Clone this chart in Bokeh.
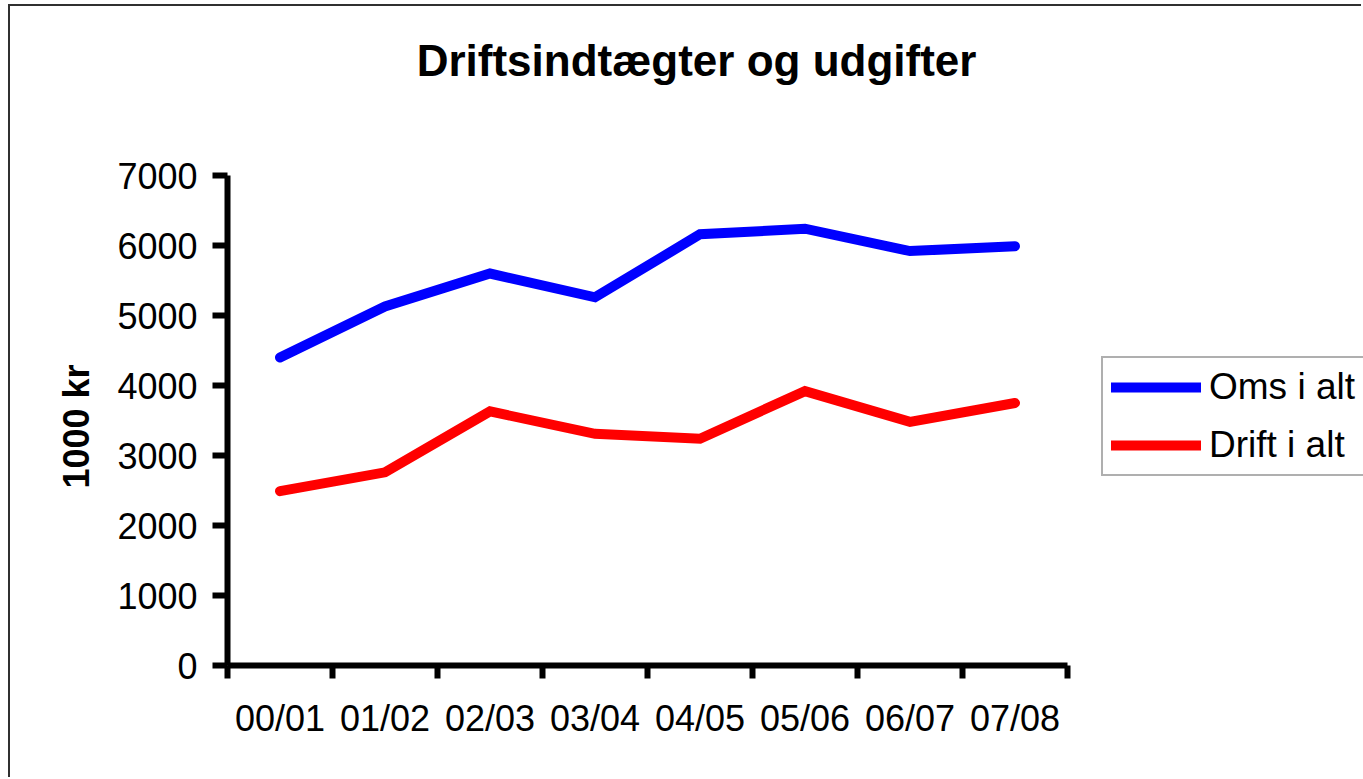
import numpy as np
from bokeh.plotting import figure
from bokeh.models import (Range1d, FixedTicker, LinearAxis, Legend, LegendItem, Label, Title)
from bokeh.embed import file_html
from bokeh.resources import INLINE

categories = ["00/01", "01/02", "02/03", "03/04", "04/05", "05/06", "06/07", "07/08"]
oms_i_alt = [4400, 5130, 5600, 5260, 6160, 6240, 5920, 5990]
drift_i_alt = [2490, 2760, 3630, 3310, 3240, 3920, 3480, 3750]
y_ticks = [0, 1000, 2000, 3000, 4000, 5000, 6000, 7000]
y_max = 7000

FONT = "Liberation Sans"
n = len(categories)
xpos = [i + 0.5 for i in range(n)]

# frame spans from the y axis to the right/top edges of the canvas;
# the axes are bounded to the data area (105 px per category, 70 px per 1000)
W, H = 1353, 773
LEFT, BOTTOM = 217, 114
x_end = (W - LEFT) / 105.0
y_end = (H - BOTTOM) / 70.0 * 1000

p = figure(width=W, height=H, output_backend="svg", toolbar_location=None,
           x_range=Range1d(0, x_end), y_range=Range1d(0, y_end),
           min_border_left=LEFT, min_border_right=0, min_border_top=0,
           min_border_bottom=BOTTOM, x_axis_type=None, y_axis_type=None)
p.styles = {"border-left": "2px solid #303030", "border-top": "2px solid #303030",
            "margin-left": "8px", "margin-top": "4px"}
p.outline_line_color = None
p.xgrid.visible = False
p.ygrid.visible = False
p.background_fill_color = "white"
p.border_fill_color = "white"

# x axis: labels at category centres, ticks at category boundaries
xaxis = LinearAxis(ticker=FixedTicker(ticks=xpos, minor_ticks=list(range(n + 1))),
                   major_label_overrides={x: c for x, c in zip(xpos, categories)},
                   bounds=(0, n))
xaxis.axis_line_width = 6
xaxis.axis_line_color = "black"
xaxis.major_tick_line_color = None
xaxis.minor_tick_line_color = "black"
xaxis.minor_tick_line_width = 6
xaxis.minor_tick_out = 13
xaxis.minor_tick_in = 0
xaxis.major_label_standoff = 19
xaxis.major_label_text_font = FONT
xaxis.major_label_text_font_size = "36px"
xaxis.major_label_text_color = "black"
p.add_layout(xaxis, "below")

yaxis = LinearAxis(ticker=FixedTicker(ticks=y_ticks, minor_ticks=[]),
                   bounds=(0, y_max))
yaxis.axis_line_width = 6
yaxis.axis_line_color = "black"
yaxis.major_tick_line_width = 6
yaxis.major_tick_line_color = "black"
yaxis.major_tick_out = 15
yaxis.major_tick_in = 0
yaxis.minor_tick_line_color = None
yaxis.major_label_standoff = 15
yaxis.major_label_text_font = FONT
yaxis.major_label_text_font_size = "36px"
yaxis.major_label_text_color = "black"
p.add_layout(yaxis, "left")

# y axis title, placed along the bounded axis
ytitle = Title(text="1000 kr", align="left", offset=177, standoff=36,
               vertical_align="bottom", text_font=FONT, text_font_style="bold",
               text_font_size="36px", text_color="black")
p.add_layout(ytitle, "left")

r1 = p.line(xpos, oms_i_alt, line_color="#0000FF", line_width=10,
            line_join="miter", line_cap="round")
r2 = p.line(xpos, drift_i_alt, line_color="#FF0000", line_width=10,
            line_join="miter", line_cap="round")

title = Label(x=4.467, y=y_max + 115 / 70.0 * 1000, text="Driftsindtægter og udgifter",
              text_font=FONT, text_font_style="bold", text_font_size="44px",
              text_align="center", text_baseline="middle", text_color="black")
p.add_layout(title)

legend = Legend(items=[LegendItem(label="Oms i alt", renderers=[r1]),
                       LegendItem(label="Drift i alt", renderers=[r2])],
                location=(874, 189))
legend.border_line_color = "#606060"
legend.border_line_width = 2
legend.background_fill_color = "white"
legend.background_fill_alpha = 1
legend.label_text_font = FONT
legend.label_text_font_size = "37px"
legend.label_text_color = "black"
legend.glyph_width = 90
legend.glyph_height = 40
legend.label_height = 40
legend.label_standoff = 8
legend.spacing = 16
legend.padding = 8
legend.margin = 0
p.add_layout(legend, "center")

open("out.html", "w").write(file_html(p, INLINE))
